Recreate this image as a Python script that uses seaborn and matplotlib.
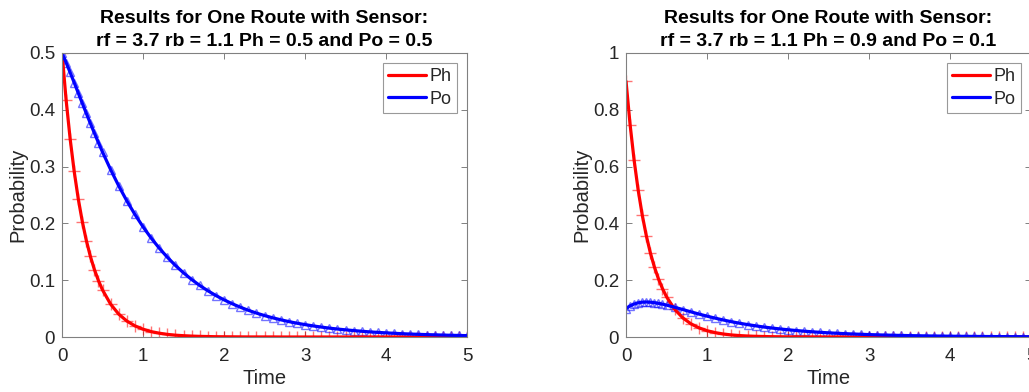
import matplotlib
matplotlib.use("Agg")
import matplotlib.pyplot as plt
import seaborn as sns
import pandas as pd

# time points
time = [0, 0.05, 0.1, 0.15, 0.2, 0.25, 0.3, 0.35, 0.4, 0.45, 0.5,
        0.6, 0.7, 0.8, 0.9, 1.0, 1.1, 1.2, 1.3, 1.4, 1.5, 1.6, 1.7, 1.8, 1.9,
        2.0, 2.1, 2.2, 2.3, 2.4, 2.5, 2.6, 2.7, 2.8, 2.9,
        3.0, 3.1, 3.2, 3.3, 3.4, 3.5, 3.6, 3.7, 3.8, 3.9,
        4.0, 4.1, 4.2, 4.3, 4.4, 4.5, 4.6, 4.7, 4.8, 4.9, 5.0]

# left panel: Ph = 0.5, Po = 0.5 at start
ph_left = [0.5, 0.4176, 0.3488, 0.2914, 0.2434, 0.2033, 0.1698, 0.1418, 0.1185, 0.0990, 0.0827,
           0.0577, 0.0402, 0.0281, 0.0196, 0.0137, 0.0095, 0.0067, 0.0046, 0.0032, 0.0023,
           0.0016, 0.0011, 0.0008, 0.0005,
           0.0004, 0.0003, 0.0002, 0.0001, 0.0001, 0.0001, 0.0001, 0.0, 0.0, 0.0,
           0.0, 0.0, 0.0, 0.0, 0.0, 0.0, 0.0, 0.0, 0.0, 0.0,
           0.0, 0.0, 0.0, 0.0, 0.0, 0.0, 0.0, 0.0, 0.0, 0.0, 0.0]
po_left = [0.5, 0.4832, 0.4657, 0.4478, 0.4297, 0.4116, 0.3936, 0.3760, 0.3587, 0.3419, 0.3255,
           0.2946, 0.2660, 0.2396, 0.2157, 0.1939, 0.1742, 0.1564, 0.1404, 0.1259, 0.1129,
           0.1012, 0.0907, 0.0814, 0.0729,
           0.0654, 0.0586, 0.0525, 0.0470, 0.0421, 0.0377, 0.0338, 0.0303, 0.0271, 0.0243,
           0.0218, 0.0195, 0.0175, 0.0156, 0.0140, 0.0126, 0.0113, 0.0101, 0.0090, 0.0081,
           0.0073, 0.0065, 0.0058, 0.0052, 0.0047, 0.0042, 0.0038, 0.0034, 0.0030, 0.0027, 0.0024]

# right panel: Ph = 0.9, Po = 0.1 at start
ph_right = [0.9, 0.7480, 0.6217, 0.5167, 0.4294, 0.3569, 0.2966, 0.2465, 0.2049, 0.1703, 0.1415,
            0.0977, 0.0675, 0.0466, 0.0322, 0.0222, 0.0154, 0.0106, 0.0073, 0.0051, 0.0035,
            0.0024, 0.0017, 0.0011, 0.0008,
            0.0005, 0.0004, 0.0003, 0.0002, 0.0001, 0.0001, 0.0001, 0.0, 0.0, 0.0,
            0.0, 0.0, 0.0, 0.0, 0.0, 0.0, 0.0, 0.0, 0.0, 0.0,
            0.0, 0.0, 0.0, 0.0, 0.0, 0.0, 0.0, 0.0, 0.0, 0.0, 0.0]
po_right = [0.1, 0.1097, 0.1162, 0.1204, 0.1226, 0.1232, 0.1225, 0.1209, 0.1185, 0.1156, 0.1123,
            0.1048, 0.0967, 0.0887, 0.0808, 0.0734, 0.0664, 0.0599, 0.0539, 0.0486, 0.0437,
            0.0393, 0.0352, 0.0316, 0.0284,
            0.0255, 0.0228, 0.0204, 0.0183, 0.0164, 0.0147, 0.0132, 0.0118, 0.0106, 0.0095,
            0.0085, 0.0076, 0.0068, 0.0061, 0.0055, 0.0049, 0.0044, 0.0039, 0.0035, 0.0032,
            0.0028, 0.0025, 0.0023, 0.0020, 0.0018, 0.0016, 0.0015, 0.0013, 0.0012, 0.0011, 0.0009]

titles = ["Results for One Route with Sensor:\nrf = 3.7 rb = 1.1 Ph = 0.5 and Po = 0.5",
          "Results for One Route with Sensor:\nrf = 3.7 rb = 1.1 Ph = 0.9 and Po = 0.1"]
yticks_left = [0, 0.1, 0.2, 0.3, 0.4, 0.5]
yticks_right = [0, 0.2, 0.4, 0.6, 0.8, 1]

sns.set_theme(style="white")
plt.rcParams['font.family'] = ['Liberation Sans', 'DejaVu Sans']

fig = plt.figure(figsize=(10.29, 3.92), dpi=100)
ax1 = fig.add_axes([0.0603, 0.1403, 0.3936, 0.7245])
ax2 = fig.add_axes([0.6084, 0.1403, 0.3936, 0.7245])

panels = [(ax1, ph_left, po_left, titles[0], yticks_left, 0.5),
          (ax2, ph_right, po_right, titles[1], yticks_right, 1.0)]

for ax, ph, po, title, yt, ymax in panels:
    df = pd.DataFrame({"Time": time, "Ph": ph, "Po": po})
    # simulated points
    ax.plot(df["Time"], df["Ph"], ls="none", marker="+", ms=9, mew=1.0,
            color="red", alpha=0.55)
    ax.plot(df["Time"], df["Po"], ls="none", marker="^", ms=6, mew=1.0,
            mfc="none", mec="blue", alpha=0.55)
    # model curves
    sns.lineplot(data=df, x="Time", y="Ph", ax=ax, color="red", lw=2.3, label="Ph")
    sns.lineplot(data=df, x="Time", y="Po", ax=ax, color="blue", lw=2.3, label="Po")

    ax.set_xlim(0, 5)
    ax.set_ylim(0, ymax)
    ax.set_xticks([0, 1, 2, 3, 4, 5])
    ax.set_yticks(yt)
    ax.set_yticklabels([("%g" % v) for v in yt])
    ax.set_title(title, fontsize=14, fontweight="bold", color="black", pad=5,
                 linespacing=1.45)
    ax.set_xlabel("Time", fontsize=14.5, color="#262626", labelpad=3)
    ax.set_ylabel("Probability", fontsize=14.5, color="#262626", labelpad=1)
    ax.tick_params(axis="x", pad=8)
    ax.tick_params(axis="y", pad=5)
    ax.tick_params(direction="in", length=4, width=0.7, colors="#808080",
                   labelcolor="#262626", labelsize=13.5, top=True, right=True,
                   bottom=True, left=True)
    for s in ax.spines.values():
        s.set_color("#808080")
        s.set_linewidth(0.8)
    leg = ax.legend(loc="upper right", fontsize=13, frameon=True, fancybox=False,
                    handlelength=2.1, borderpad=0.3, labelspacing=0.3,
                    handletextpad=0.2, borderaxespad=0.55)
    leg.get_frame().set_edgecolor("#808080")
    leg.get_frame().set_linewidth(0.8)

fig.savefig("out.png", dpi=100)
